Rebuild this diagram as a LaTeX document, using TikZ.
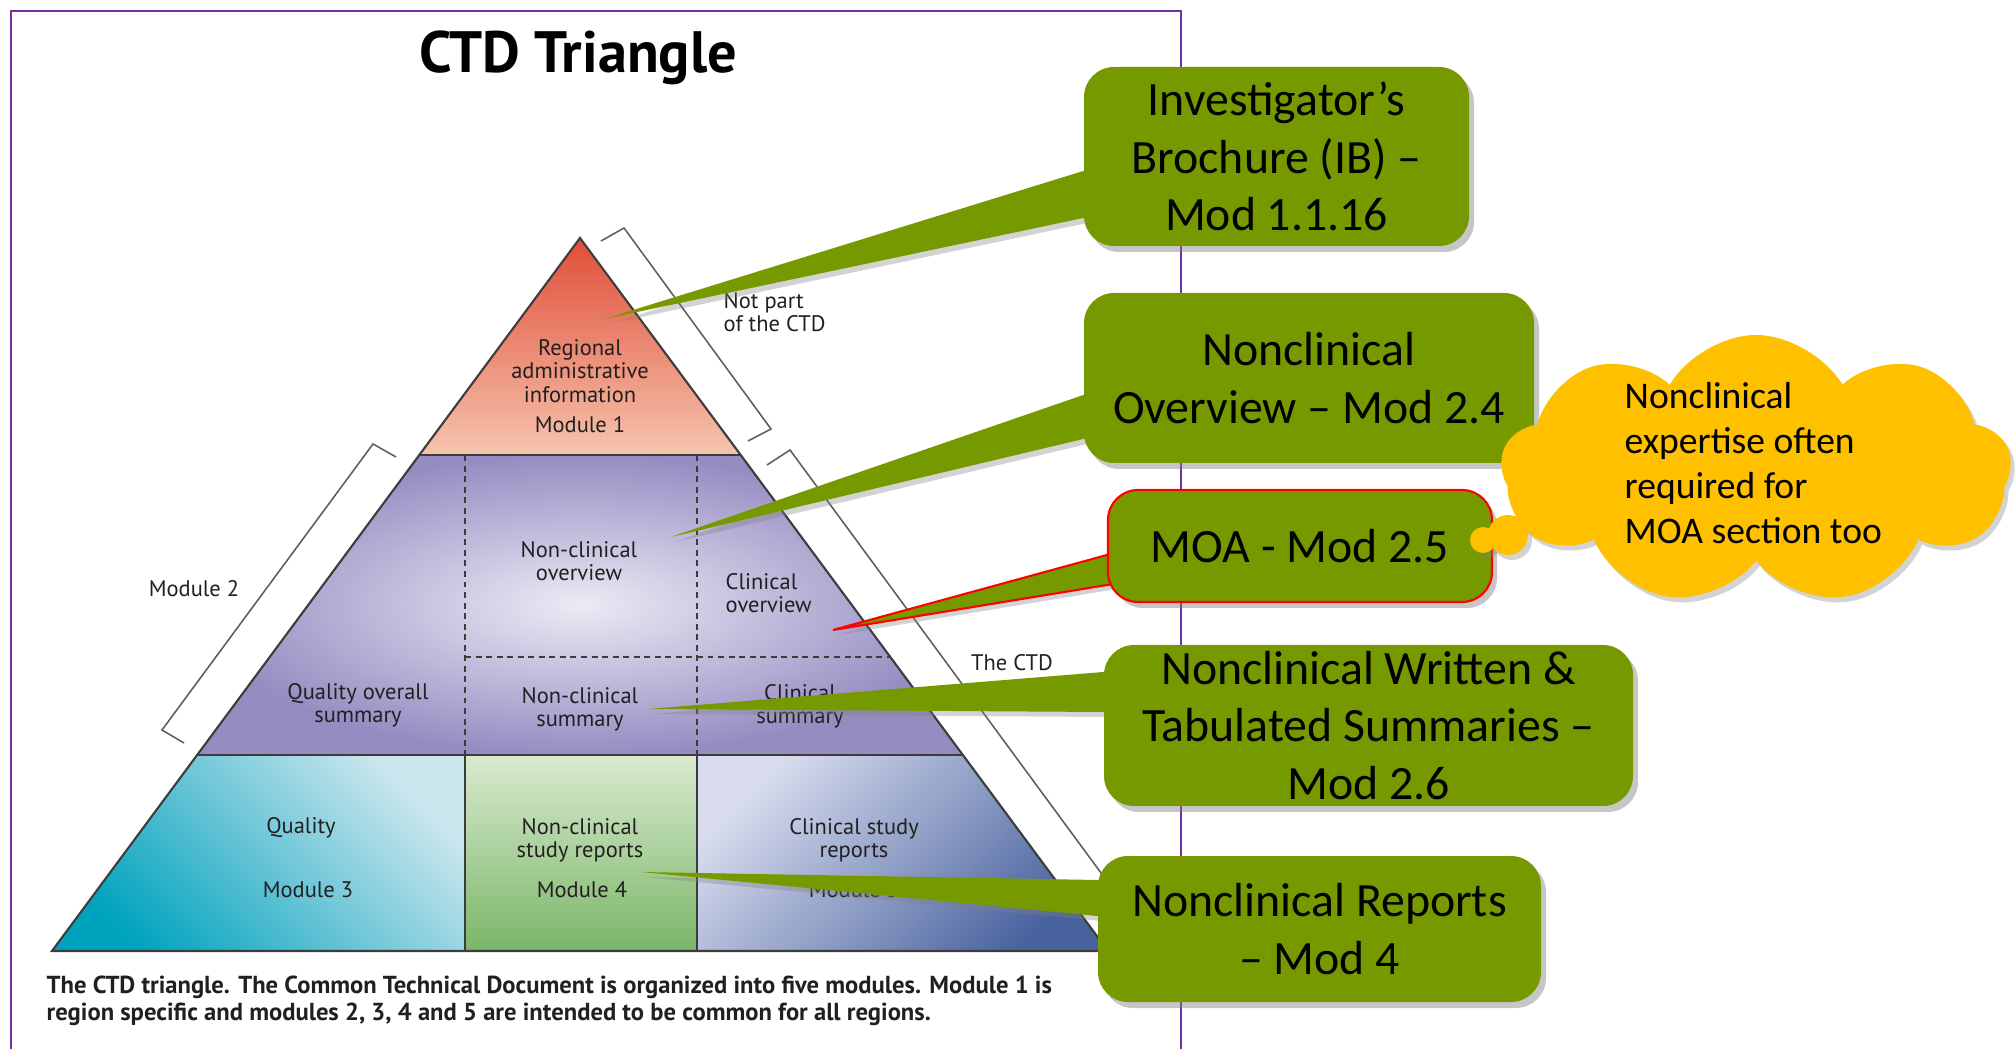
\documentclass[tikz,border=0pt]{standalone}
\usepackage{fontspec}
\setmainfont{Carlito}
\newfontfamily\figfont{PT Sans}
\usetikzlibrary{shapes.symbols,shadows,calc}
\pgfdeclarelayer{front}
\pgfsetlayers{main,front}

\definecolor{framepurple}{RGB}{112,48,160}
\definecolor{callgreen}{RGB}{119,153,0}
\definecolor{notegold}{RGB}{255,192,0}
\definecolor{figink}{RGB}{35,31,32}
\definecolor{edgegray}{RGB}{60,60,60}
\definecolor{brackgray}{RGB}{95,95,95}
\definecolor{regiontop}{RGB}{224,78,56}
\definecolor{regionbot}{RGB}{246,196,174}
\definecolor{summin}{RGB}{236,234,244}
\definecolor{summout}{RGB}{150,140,194}
\definecolor{qualdark}{RGB}{0,163,190}
\definecolor{quallight}{RGB}{204,230,238}
\definecolor{nonctop}{RGB}{218,234,208}
\definecolor{noncbot}{RGB}{122,182,104}
\definecolor{clinlight}{RGB}{216,220,238}
\definecolor{clindark}{RGB}{72,98,158}

\begin{document}
\begin{tikzpicture}[
    lbl/.style={font=\figfont\fontsize{6.4}{6.6}\selectfont, text=figink, align=center, inner sep=0pt},
    callbox/.style={rounded corners=0.3cm, fill=callgreen, align=center, inner sep=0pt,
      font=\fontsize{13.6}{16.4}\selectfont,
      drop shadow={shadow xshift=0.05cm, shadow yshift=-0.06cm, opacity=0.45}},
    callpointer/.style={fill=callgreen,
      drop shadow={shadow xshift=0.04cm, shadow yshift=-0.05cm, opacity=0.35}},
    softshadow/.style={drop shadow={shadow xshift=0.04cm, shadow yshift=-0.05cm, opacity=0.35}},
    bracket/.style={draw=brackgray, line width=0.45pt},
    divider/.style={draw=edgegray, line width=0.5pt},
    dashdiv/.style={draw=edgegray, line width=0.45pt, dash pattern=on 1.7pt off 1.3pt},
  ]
  \useasboundingbox (0,0) rectangle (20.16,10.48);
  \draw[framepurple, line width=0.8pt] (0.11,-0.3) -- (0.11,10.37) -- (11.81,10.37) -- (11.81,-0.3);
  \node[font=\figfont\bfseries\fontsize{16.6}{19}\selectfont, anchor=base] (title) at (5.78,9.75) {CTD Triangle};

  \coordinate (apex) at (5.80,8.10);
  \coordinate (m1l) at (4.19,5.93);
  \coordinate (m1r) at (7.41,5.93);
  \coordinate (m2l) at (1.97,2.93);
  \coordinate (m2r) at (9.63,2.93);
  \coordinate (bl) at (0.52,0.97);
  \coordinate (br) at (11.08,0.97);

  \shade[top color=regiontop, bottom color=regionbot] (apex) -- (m1r) -- (m1l) -- cycle;
  \shade[inner color=summin, outer color=summout] (m1l) -- (m1r) -- (m2r) -- (m2l) -- cycle;
  \shade[bottom color=qualdark, top color=quallight, shading angle=-45] (bl) -- (m2l) -- (4.65,2.93) -- (4.65,0.97) -- cycle;
  \shade[top color=nonctop, bottom color=noncbot] (4.65,0.97) -- (4.65,2.93) -- (6.97,2.93) -- (6.97,0.97) -- cycle;
  \shade[top color=clinlight, bottom color=clindark, shading angle=45] (6.97,0.97) -- (6.97,2.93) -- (m2r) -- (br) -- cycle;

  \draw[dashdiv] (4.65,5.93) -- (4.65,2.93);
  \draw[dashdiv] (6.97,5.93) -- (6.97,2.93);
  \draw[dashdiv] (4.65,3.91) -- (8.90,3.91);
  \draw[divider] (4.65,2.93) -- (4.65,0.97);
  \draw[divider] (6.97,2.93) -- (6.97,0.97);
  \draw[divider] (m1l) -- (m1r);
  \draw[divider] (m2l) -- (m2r);
  \draw[divider, line width=0.6pt] (apex) -- (br) -- (bl) -- cycle;

  \node[lbl] (regional) at (5.80,6.77) {Regional\\administrative\\information};
  \node[lbl, anchor=base] (mod1) at (5.80,6.15) {Module 1};
  \node[lbl] (ncover) at (5.79,4.87) {Non-clinical\\overview};
  \node[lbl, align=left, anchor=west] (clover) at (7.25,4.55) {Clinical\\overview};
  \node[lbl] (qos) at (3.58,3.43) {Quality overall\\summary};
  \node[lbl] (ncsum) at (5.80,3.39) {Non-clinical\\summary};
  \node[lbl] (clsum) at (8.00,3.42) {Clinical\\summary};
  \node[lbl, anchor=base] (quality) at (3.01,2.15) {Quality};
  \node[lbl, anchor=base] (mod3) at (3.08,1.51) {Module 3};
  \node[lbl] (ncrep) at (5.80,2.08) {Non-clinical\\study reports};
  \node[lbl, anchor=base] (mod4) at (5.82,1.51) {Module 4};
  \node[lbl] (clrep) at (8.54,2.08) {Clinical study\\reports};
  \node[lbl, anchor=base] (mod5) at (8.54,1.51) {Module 5};

  \draw[bracket] (6.01,8.07) -- (6.24,8.20) -- (7.71,6.19) -- (7.48,6.07);
  \draw[bracket] (7.67,5.83) -- (7.90,5.98) -- (11.65,0.88) -- (11.42,0.76);
  \draw[bracket] (3.96,5.91) -- (3.73,6.04) -- (1.62,3.18) -- (1.84,3.05);
  \node[lbl, align=left, anchor=west] (notpart) at (7.23,7.36) {Not part\\of the CTD};
  \node[lbl, anchor=base] (mod2) at (1.94,4.51) {Module 2};
  \node[lbl, anchor=base] (thectd) at (10.12,3.77) {The CTD};

  \node[font=\figfont\bfseries\fontsize{7.0}{7.8}\selectfont, text=figink, align=left, anchor=west, inner sep=0pt] (caption) at (0.46,0.47)
    {The CTD triangle. The Common Technical Document is organized into five modules. Module 1 is\\
     region specific and modules 2, 3, 4 and 5 are intended to be common for all regions.};

  \begin{pgfonlayer}{front}
    \node[callbox, minimum width=3.85cm, minimum height=1.79cm] (ib) at (12.765,8.915) {Investigator’s\\Brochure (IB) –\\Mod 1.1.16};
    \node[callbox, minimum width=4.50cm, minimum height=1.70cm] (ovw) at (13.09,6.70) {Nonclinical\\Overview – Mod 2.4};
    \node[callbox, minimum width=3.84cm, minimum height=1.12cm, draw=red, line width=0.6pt] (moa) at (13.00,5.02) {MOA - Mod 2.5};
    \node[callbox, minimum width=5.29cm, minimum height=1.61cm] (summ) at (13.685,3.225) {Nonclinical Written \&\\Tabulated Summaries –\\Mod 2.6};
    \node[callbox, minimum width=4.43cm, minimum height=1.46cm] (rep) at (13.195,1.19) {Nonclinical Reports\\– Mod 4};

    \fill[notegold, softshadow] (14.83,5.08) circle (0.13);
    \fill[notegold, softshadow] (15.08,5.13) circle (0.20);
    \node[cloud, cloud puffs=9, cloud puff arc=120, cloud ignores aspect, fill=notegold,
      minimum width=5.1cm, minimum height=2.7cm, softshadow] (note) at (17.56,5.78) {};
    \node[font=\fontsize{10.7}{12.8}\selectfont, align=left, anchor=west, inner sep=0pt] (notetext) at (16.24,5.85)
      {Nonclinical\\expertise often\\required for\\MOA section too};
  \end{pgfonlayer}

  \coordinate (ibtip) at (6.04,7.29);
  \coordinate (ovwtip) at (6.71,5.11);
  \coordinate (moatip) at (8.33,4.18);
  \coordinate (summtip) at (6.48,3.39);
  \coordinate (reptip) at (6.41,1.76);

  \fill[callpointer] (ibtip) -- ($(ibtip)!1.04!([yshift=-0.145cm]ib.west)$) -- ($(ibtip)!1.04!([yshift=-0.615cm]ib.west)$) -- cycle;
  \fill[callpointer] (ovwtip) -- ($(ovwtip)!1.05!([yshift=-0.17cm]ovw.west)$) -- ($(ovwtip)!1.05!([yshift=-0.61cm]ovw.west)$) -- cycle;
  \filldraw[callpointer, draw=red, line width=0.6pt] (moatip) -- ($(moatip)!1.06!([yshift=-0.09cm]moa.west)$) -- ($(moatip)!1.06!([yshift=-0.39cm]moa.west)$) -- cycle;
  \fill[callpointer] (summtip) -- ($(summtip)!1.05!([yshift=0.535cm]summ.west)$) -- ($(summtip)!1.05!([yshift=0.135cm]summ.west)$) -- cycle;
  \fill[callpointer] (reptip) -- ($(reptip)!1.05!([yshift=0.49cm]rep.west)$) -- ($(reptip)!1.05!([yshift=0.13cm]rep.west)$) -- cycle;
\end{tikzpicture}
\end{document}
